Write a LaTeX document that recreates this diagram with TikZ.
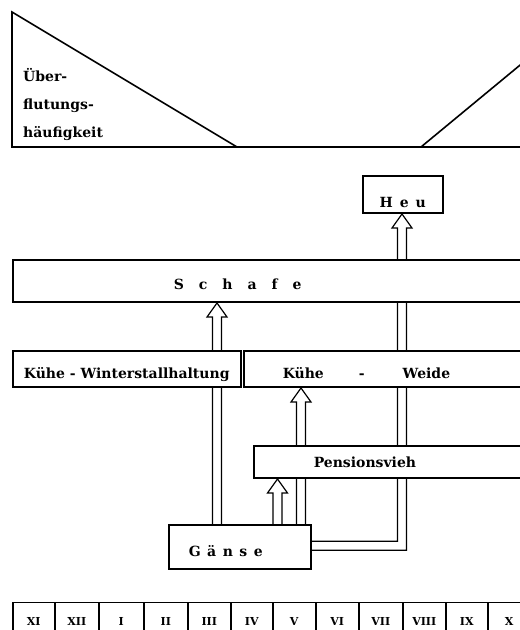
\documentclass[tikz,border=0pt]{standalone}
\usepackage{fontspec}
\setmainfont{DejaVu Serif}
\usetikzlibrary{calc,backgrounds}
\tikzset{
  box/.style={draw, line width=1.5pt, fill=white, inner ysep=0pt, text depth=0pt,
    font=\fontsize{14}{16}\selectfont\bfseries},
  cell/.style={draw, line width=1.5pt, minimum height=38pt, inner sep=0pt,
    font=\fontsize{11}{13}\selectfont\bfseries},
  feed/.style={draw, line width=1.2pt, to path={
    let \p1=(\tikztostart), \p2=(\tikztotarget) in
    (\x1-4.5pt,\y1) -- (\x1-4.5pt,\y2-14pt) -- (\x1-10pt,\y2-14pt) -- (\x2,\y2)
    -- (\x1+10pt,\y2-14pt) -- (\x1+4.5pt,\y2-14pt) -- (\x1+4.5pt,\y1)}},
}
\begin{document}
\begin{tikzpicture}[x=1pt,y=1pt]
  \useasboundingbox (0,0) rectangle (520,630);
  \clip (0,0) rectangle (520,630);
  % flooding frequency
  \draw[line width=1.6pt] (237,483) -- (12,618) -- (12,483) -- (520,483);
  \draw[line width=1.6pt] (421,483) -- (525,569);
  \node[anchor=north west, align=left, inner sep=0pt,
    font=\fontsize{14}{28}\selectfont\bfseries] (ueber) at (23,562)
    {Über-\\flutungs-\\häufigkeit};
  % users of the meadows
  \node[box, anchor=south west, minimum width=80pt, minimum height=37pt,
    text height=25pt] (heu) at (362,416) {H\hspace{7pt}e\hspace{7pt}u};
  \node[box, anchor=south west, minimum height=42pt, inner xsep=161pt,
    text width=196pt, align=left, text height=16pt] (schafe) at (12,327)
    {S\hspace{15pt}c\hspace{15pt}h\hspace{15pt}a\hspace{15pt}f\hspace{15pt}e};
  \node[box, anchor=south west, minimum width=228pt, minimum height=36pt,
    text height=19pt] (winter) at (12,242) {Kühe - Winterstallhaltung};
  \node[box, anchor=south west, minimum height=36pt, inner xsep=39pt,
    text width=209pt, align=left, text height=19pt] (weide) at (243,242)
    {Kühe\hspace{35pt}-\hspace{38pt}Weide};
  \node[box, anchor=south west, minimum height=32pt, inner xsep=60pt,
    text width=157pt, align=left, text height=10pt] (pension) at (253,151)
    {Pensionsvieh};
  \node[box, anchor=south west, minimum height=44pt, inner xsep=20pt,
    text width=102pt, align=left, text height=19pt] (gaense) at (168,60)
    {G\hspace{6.5pt}ä\hspace{6.5pt}n\hspace{6.5pt}s\hspace{6.5pt}e};
  % columns of the connectors
  \coordinate (c1) at (217,0);
  \coordinate (c2) at (277.5,0);
  \coordinate (c3) at (301,0);
  \coordinate (c4) at (402,0);
  \begin{scope}[on background layer]
    \draw[feed] (gaense.north -| c1) to (schafe.south -| c1);
    \draw[feed] (gaense.north -| c2) to (pension.south -| c2);
    \draw[feed] (gaense.north -| c3) to (weide.south -| c3);
    \draw[line width=1.2pt] let \p1=(gaense.east), \p2=(heu.south -| c4) in
      (\x1,\y1+6pt) -- (\x2-4.5pt,\y1+6pt) -- (\x2-4.5pt,\y2-14pt)
      -- (\x2-10pt,\y2-14pt) -- (\x2,\y2) -- (\x2+10pt,\y2-14pt)
      -- (\x2+4.5pt,\y2-14pt) -- (\x2+4.5pt,\y1-3pt) -- (\x1,\y1-3pt);
  \end{scope}
  % months
  \foreach \x/\w/\m [count=\i] in {12/42/XI,54/44/XII,98/45/I,143/44/II,
      187/43/III,230/42/IV,272/43/V,315/43/VI,358/44/VII,402/43/VIII,
      445/42/IX,487/43/X}
    \node[cell, minimum width=\w pt, anchor=north west] (m\i) at (\x,28) {\m};
\end{tikzpicture}
\end{document}
